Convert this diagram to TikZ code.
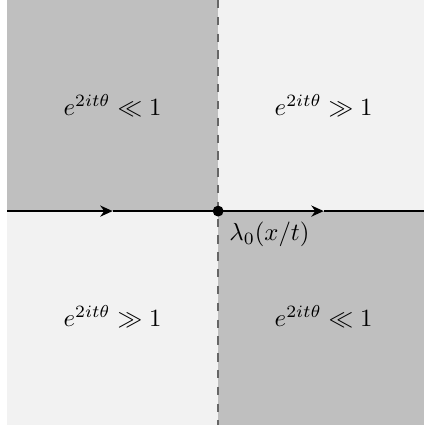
\documentclass[tikz,border=0pt]{standalone}
\usepackage{amssymb}
\usetikzlibrary{arrows.meta, positioning}

\tikzset{
  darkregion/.style={fill=black!25},
  lightregion/.style={fill=black!5},
  axisline/.style={line width=0.8pt, black},
  cutline/.style={dash pattern=on 3.4pt off 3.4pt, black!60, line width=0.8pt}
}

\begin{document}
\begin{tikzpicture}
\useasboundingbox (-3.1,-3.04) rectangle (2.92,3.0);
% the four sectors
\fill[darkregion] (-3,0) rectangle (0,3);
\fill[lightregion] (0,0) rectangle (3,3);
\fill[lightregion] (-3,-3.1) rectangle (0,0);
\fill[darkregion] (0,-3.1) rectangle (3,0);
\coordinate (top) at (0,3);
\coordinate (bot) at (0,-3.1);
\draw[cutline] (top) -- (bot);
% the real axis
\coordinate (W) at (-3,0);
\coordinate (L) at (-1.5,0);
\coordinate (O) at (0,0);
\coordinate (R) at (1.5,0);
\coordinate (E) at (3,0);
\draw[axisline, -{Stealth[length=5pt,width=4.5pt]}] (W) -- (L);
\draw[axisline] (L) -- (O);
\draw[axisline, -{Stealth[length=5pt,width=4.5pt]}] (O) -- (R);
\draw[axisline] (R) -- (E);
\fill (O) circle (2.2pt);
\node[below right=1pt and 1pt of O] (lam) {$\lambda_0(x/t)$};
% labels
\node (tl) at (-1.5,1.5) {$e^{2it\theta} \ll 1$};
\node (tr) at (1.5,1.5) {$e^{2it\theta} \gg 1$};
\node (bl) at (-1.5,-1.5) {$e^{2it\theta} \gg 1$};
\node (br) at (1.5,-1.5) {$e^{2it\theta} \ll 1$};
\end{tikzpicture}
\end{document}
